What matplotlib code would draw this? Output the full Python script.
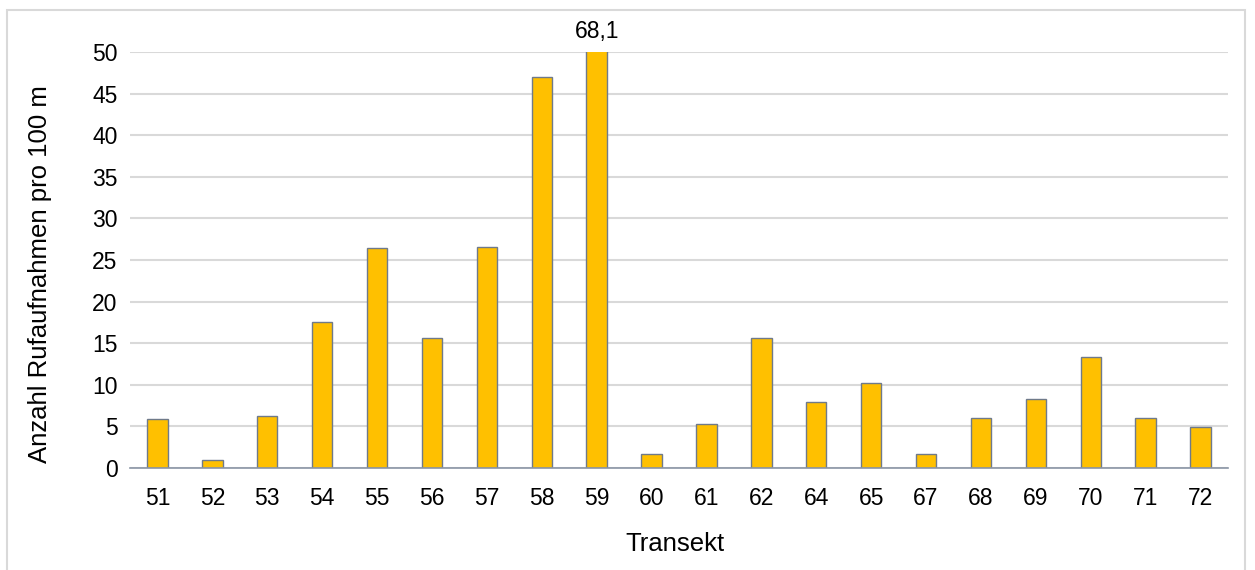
import matplotlib
matplotlib.use("Agg")
import matplotlib.pyplot as plt
from matplotlib.patches import Rectangle

categories = ["51", "52", "53", "54", "55", "56", "57", "58", "59", "60",
              "61", "62", "64", "65", "67", "68", "69", "70", "71", "72"]
values = [5.9, 1.0, 6.2, 17.5, 26.5, 15.6, 26.6, 47.0, 68.1, 1.7,
          5.3, 15.6, 7.9, 10.2, 1.7, 6.0, 8.3, 13.3, 6.0, 4.9]
yticks = [0, 5, 10, 15, 20, 25, 30, 35, 40, 45, 50]
ymax = 50
label_text = "68,1"

plt.rcParams['font.family'] = ['Liberation Sans', 'DejaVu Sans']

fig = plt.figure(figsize=(12.55, 5.70), dpi=100)
fig.patches.append(Rectangle((7/1255, -0.1), (1245-7)/1255, 1.1 - 10/570,
                             transform=fig.transFigure, fill=False,
                             edgecolor='#d9d9d9', linewidth=1.5))
ax = fig.add_axes([130/1255, 1-468/570, (1228-130)/1255, (468-52)/570])

x = list(range(len(categories)))
ax.bar(x, values, width=0.37, color='#FFC000', edgecolor='#6f7a8a',
       linewidth=1.0, zorder=3)
ax.set_xlim(-0.5, len(categories)-0.5)
ax.set_ylim(0, ymax)
ax.set_yticks(yticks)
ax.set_xticks(x)
ax.set_xticklabels(categories)
ax.tick_params(axis='both', length=0, labelsize=16.5, colors='#000000')
ax.tick_params(axis='x', pad=14)
ax.tick_params(axis='y', pad=9)
ax.grid(axis='y', color='#d9d9d9', linewidth=1.5, zorder=0)
for s in ['top', 'right', 'left']:
    ax.spines[s].set_visible(False)
ax.spines['bottom'].set_color('#8a95a5')
ax.spines['bottom'].set_linewidth(1.2)
ax.spines['bottom'].set_zorder(4)

imax = values.index(max(values))
ax.text(imax, ymax + 1.1, label_text, ha='center', va='bottom', fontsize=16.5,
        clip_on=False)

ax.set_xlabel("Transekt", fontsize=18.5)
ax.xaxis.set_label_coords((675-130)/1098, (468-532)/416)
ax.xaxis.label.set_va('top')
ax.set_ylabel("Anzahl Rufaufnahmen pro 100 m", fontsize=18.5)
ax.yaxis.set_label_coords((40-130)/1098, (468-274)/416)
ax.yaxis.label.set_va('center')
ax.yaxis.label.set_ha('center')

fig.savefig("out.png", dpi=100)
